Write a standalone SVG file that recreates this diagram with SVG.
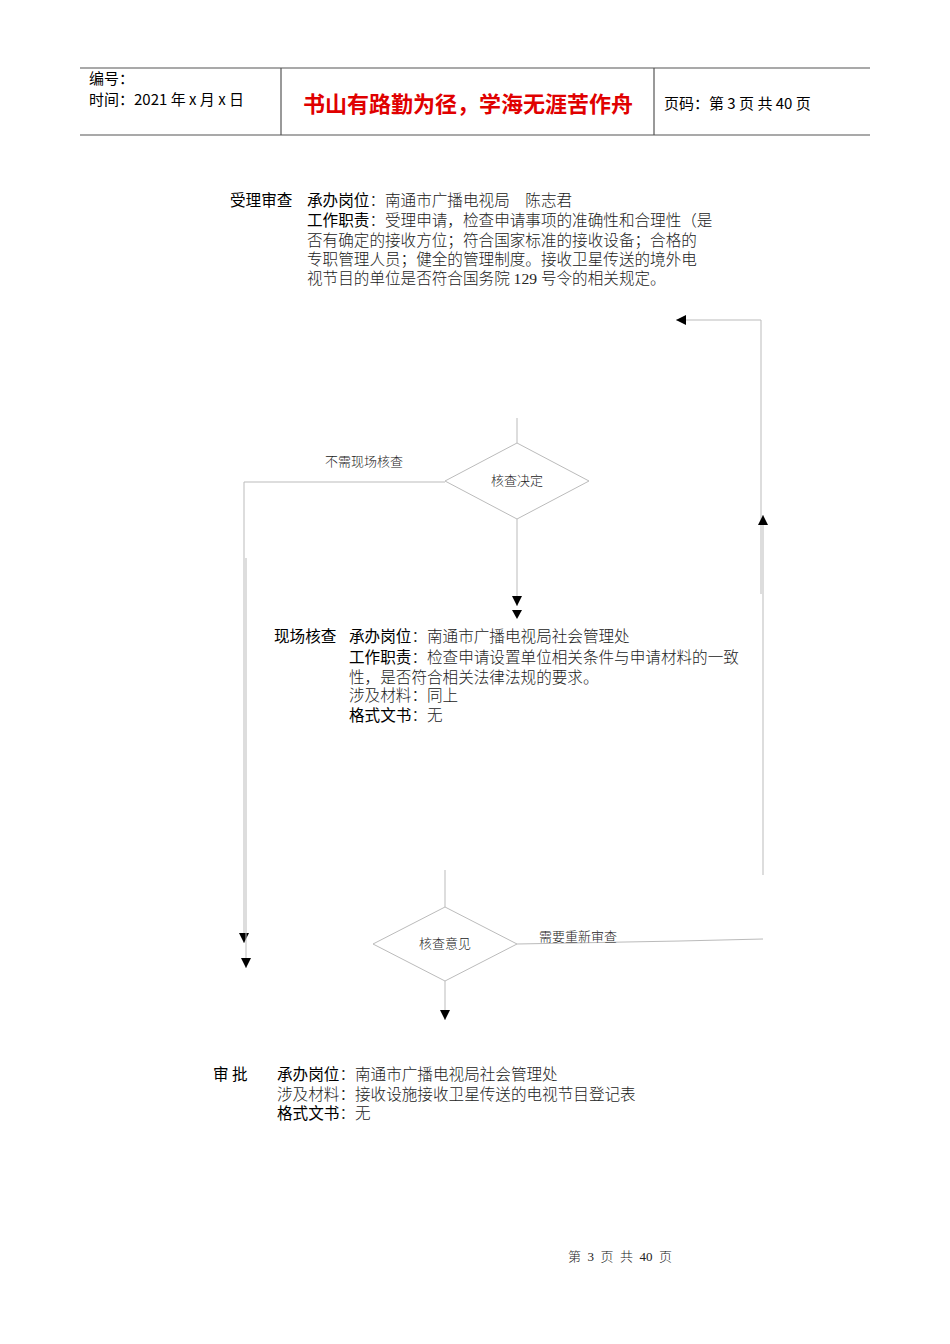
<svg xmlns="http://www.w3.org/2000/svg" width="950" height="1344" viewBox="0 0 950 1344">
<style>
.s{font-family:"Noto Sans CJK SC",sans-serif;fill:#000;font-weight:400}
.r{font-family:"Liberation Serif","Noto Sans CJK SC",serif;fill:#222;font-weight:300}
.h{font-size:15.6px}
.ln{stroke:#bbb;stroke-width:1;fill:none}
.hd{stroke:#555;stroke-width:1.2}
</style>
<defs>
<marker id="a" viewBox="0 0 10 10" refX="10" refY="5" markerWidth="10" markerHeight="10" markerUnits="userSpaceOnUse" orient="auto"><path d="M0,0L10,5L0,10Z" fill="#000"/></marker>
</defs>
<rect width="950" height="1344" fill="#fff"/>
<g id="header">
<line class="hd" x1="80" y1="68" x2="870" y2="68"/>
<line class="hd" x1="80" y1="135" x2="870" y2="135" stroke-width="2"/>
<line class="hd" x1="281" y1="68" x2="281" y2="135"/>
<line class="hd" x1="654" y1="68" x2="654" y2="135"/>
<text class="s" font-size="15" x="89" y="84">编号：</text>
<text class="s" font-size="15" x="89" y="105">时间：2021 年 x 月 x 日</text>
<text x="468" y="112" text-anchor="middle" font-family="Noto Sans CJK SC,sans-serif" font-size="22" font-weight="bold" fill="#e00000">书山有路勤为径，学海无涯苦作舟</text>
<text class="s" font-size="15" x="664" y="109">页码：第 3 页  共 40 页</text>
</g>
<g id="n1">
<text class="s h" x="230" y="206">受理审查</text>
<text class="h" x="307" y="206"><tspan class="s">承办岗位</tspan><tspan class="r">：南通市广播电视局　陈志君</tspan></text>
<text class="h" x="307" y="226"><tspan class="s">工作职责</tspan><tspan class="r">：受理申请，检查申请事项的准确性和合理性（是</tspan></text>
<text class="r h" x="307" y="246">否有确定的接收方位；符合国家标准的接收设备；合格的</text>
<text class="r h" x="307" y="265">专职管理人员；健全的管理制度。接收卫星传送的境外电</text>
<text class="r h" x="307" y="284">视节目的单位是否符合国务院 129 号令的相关规定。</text>
</g>
<g id="d1">
<polygon class="ln" points="517,443 589,481 517,519 445,481"/>
<text class="r" x="517" y="485" font-size="13" text-anchor="middle">核查决定</text>
</g>
<g id="n2">
<text class="s h" x="274" y="642">现场核查</text>
<text class="h" x="349" y="642"><tspan class="s">承办岗位</tspan><tspan class="r">：南通市广播电视局社会管理处</tspan></text>
<text class="h" x="349" y="663"><tspan class="s">工作职责</tspan><tspan class="r">：检查申请设置单位相关条件与申请材料的一致</tspan></text>
<text class="r h" x="349" y="683">性，是否符合相关法律法规的要求。</text>
<text class="r h" x="349" y="701">涉及材料：同上</text>
<text class="h" x="349" y="721"><tspan class="s">格式文书</tspan><tspan class="r">：无</tspan></text>
</g>
<g id="d2">
<polygon class="ln" points="445,907 517,944 445,981 373,944"/>
<text class="r" x="445" y="948" font-size="13" text-anchor="middle">核查意见</text>
</g>
<g id="n3">
<text class="s h" x="213" y="1080">审  批</text>
<text class="h" x="277" y="1080"><tspan class="s">承办岗位</tspan><tspan class="r">：南通市广播电视局社会管理处</tspan></text>
<text class="r h" x="277" y="1100">涉及材料：接收设施接收卫星传送的电视节目登记表</text>
<text class="h" x="277" y="1119"><tspan class="s">格式文书</tspan><tspan class="r">：无</tspan></text>
</g>
<g id="connectors">
<line class="ln" x1="761" y1="320" x2="676" y2="320" marker-end="url(#a)"/>
<line class="ln" x1="761" y1="320" x2="761" y2="594"/>
<line class="ln" x1="763" y1="875" x2="763" y2="515" marker-end="url(#a)"/>
<line class="ln" x1="517" y1="418" x2="517" y2="443"/>
<line class="ln" x1="517" y1="519" x2="517" y2="606" marker-end="url(#a)"/>
<path d="M512,610L522,610L517,619Z" fill="#000"/>
<polyline class="ln" points="445,482 244,482 244,943" marker-end="url(#a)"/>
<line class="ln" x1="246" y1="558" x2="246" y2="968" marker-end="url(#a)"/>
<text class="r" x="325" y="466" font-size="13">不需现场核查</text>
<line class="ln" x1="445" y1="870" x2="445" y2="907"/>
<polyline class="ln" points="517,944 680,941 763,939"/>
<text class="r" x="539" y="941" font-size="13">需要重新审查</text>
<line class="ln" x1="445" y1="981" x2="445" y2="1020" marker-end="url(#a)"/>
</g>
<text class="r" x="620" y="1261" font-size="13" text-anchor="middle" xml:space="preserve">第  3  页  共  40  页</text>
</svg>
